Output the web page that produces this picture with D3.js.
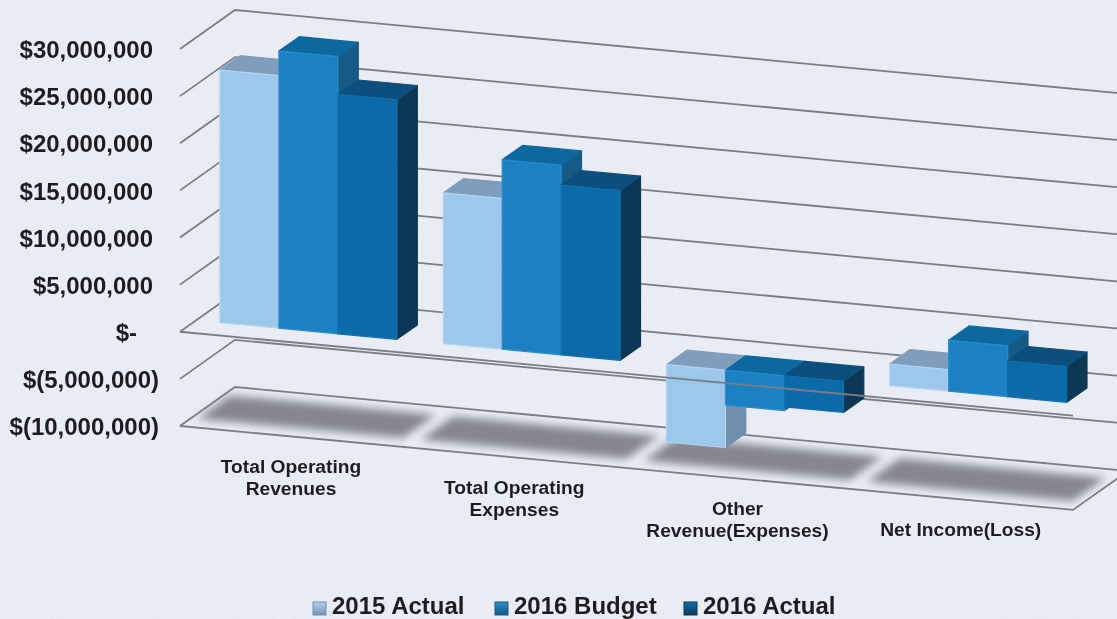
<!DOCTYPE html>
<html>
<head>
<meta charset="utf-8">
<script src="https://cdn.jsdelivr.net/npm/d3@7"></script>
<style>
  html, body { margin: 0; padding: 0; background: #eceef6; }
  svg { display: block; }
  text { font-family: "Liberation Sans", Arial, sans-serif; font-weight: bold; fill: #1e1e24; }
</style>
</head>
<body>
<div id="chart"></div>
<script>
const categories = ["Total Operating Revenues", "Total Operating Expenses", "Other Revenue(Expenses)", "Net Income(Loss)"];
const categoryLines = [["Total Operating", "Revenues"], ["Total Operating", "Expenses"], ["Other", "Revenue(Expenses)"], ["Net Income(Loss)"]];
const seriesNames = ["2015 Actual", "2016 Budget", "2016 Actual"];
const actual2015 = [26800000, 16000000, -8200000, 2300000];
const budget2016 = [29400000, 20100000, -3700000, 5400000];
const actual2016 = [25400000, 18000000, -3300000, 3800000];
const tickValues = [30000000, 25000000, 20000000, 15000000, 10000000, 5000000, 0, -5000000, -10000000];
const tickLabels = ["$30,000,000", "$25,000,000", "$20,000,000", "$15,000,000", "$10,000,000", "$5,000,000", "$-", "$(5,000,000)", "$(10,000,000)"];

const seriesValues = [actual2015, budget2016, actual2016];
const faces = [
  { front: "#9dc8ec", top: "#7f9dbc", side: "#6f8fae", edge: "#b4d6f2" },
  { front: "#1b80c5", top: "#10689f", side: "#155a86", edge: "#2b8ccc" },
  { front: "#0c6aa8", top: "#0e4f7b", side: "#0c3955", edge: "#0d70b0" }
];

const width = 1117, height = 619;
const slope = 0.094, depthX = 55, depthY = -39;

const svg = d3.select("#chart").append("svg").attr("width", width).attr("height", height);
const defs = svg.append("defs");
defs.append("filter").attr("id", "shadowBlur")
  .attr("x", "-10%").attr("y", "-30%").attr("width", "120%").attr("height", "160%")
  .append("feGaussianBlur").attr("stdDeviation", 4);
defs.append("filter").attr("id", "soft").append("feGaussianBlur").attr("stdDeviation", 0.45);
defs.append("filter").attr("id", "softText").append("feGaussianBlur").attr("stdDeviation", 0.3);

const paper = defs.append("filter").attr("id", "paper")
  .attr("x", 0).attr("y", 0).attr("width", "100%").attr("height", "100%");
paper.append("feTurbulence").attr("type", "fractalNoise").attr("baseFrequency", 0.7).attr("numOctaves", 2).attr("seed", 4);
paper.append("feColorMatrix").attr("type", "matrix")
  .attr("values", "0 0 0 0 0.6  0 0 0 0 0.62  0 0 0 0 0.72  0.35 0 0 0 -0.12");

const swatch = defs.selectAll("linearGradient").data(faces).join("linearGradient")
  .attr("id", (d, i) => "swatch" + i).attr("x1", 0).attr("y1", 0).attr("x2", 0).attr("y2", 1);
swatch.append("stop").attr("offset", "0%").attr("stop-color", d => d.edge);
swatch.append("stop").attr("offset", "100%").attr("stop-color", d => d.side);

svg.append("rect").attr("width", width).attr("height", height).attr("fill", "#eceef6");
svg.append("rect").attr("width", width).attr("height", height).attr("filter", "url(#paper)");

const y = d3.scaleLinear().domain([-10000000, 30000000]).range([426, 49]);
const x = d3.scaleBand().domain(categories).range([180, 1073]);
const inner = d3.scaleBand().domain(seriesNames).range([24, 201]);
const xEnd = x.range()[1];

// front-plane x, value and depth (0 front .. 1 back) to screen
function project(px, value, depth) {
  return [px + depth * depthX, y(value) + (px - 180) * slope + depth * depthY];
}
const path = pts => "M" + pts.map(p => p.map(n => n.toFixed(1)).join(",")).join("L") + "Z";
const line = d3.line();

const g = svg.append("g").attr("filter", "url(#soft)");
const lineColor = "#7c7c86";

// walls
const walls = g.append("g").attr("fill", "none").attr("stroke", lineColor).attr("stroke-width", 1.8);
walls.selectAll("path").data(tickValues).join("path")
  .attr("d", v => line([project(180, v, 0), project(180, v, 1), project(xEnd, v, 1)]));
walls.append("path").attr("d", line([project(180, -10000000, 0), project(xEnd, -10000000, 0), project(xEnd, -10000000, 1)]));

// floor shadows
g.append("g").selectAll("path").data(categories).join("path")
  .attr("d", c => {
    const a = x(c) + 6, b = x(c) + 212;
    return path([project(a, -10000000, 0.2), project(a, -10000000, 0.8), project(b, -10000000, 0.8), project(b, -10000000, 0.2)]);
  })
  .attr("fill", "#85868f")
  .attr("filter", "url(#shadowBlur)");

// bars
const bars = [];
categories.forEach((c, ci) => {
  seriesNames.forEach((s, si) => {
    bars.push({ c, s, si, value: seriesValues[si][ci] });
  });
});
const d0 = 0.29, d1 = 0.66;
const bar = g.append("g").selectAll("g").data(bars).join("g")
  .attr("stroke-linejoin", "round").attr("stroke-width", 1.2);
bar.each(function(d) {
  const sel = d3.select(this);
  const f = faces[d.si];
  const l = x(d.c) + inner(d.s), r = l + inner.bandwidth();
  const hi = Math.max(d.value, 0), lo = Math.min(d.value, 0);
  sel.append("path").attr("fill", f.side).attr("stroke", f.side)
    .attr("d", path([project(r, hi, d0), project(r, hi, d1), project(r, lo, d1), project(r, lo, d0)]));
  sel.append("path").attr("fill", f.top).attr("stroke", f.top)
    .attr("d", path([project(l, hi, d0), project(l, hi, d1), project(r, hi, d1), project(r, hi, d0)]));
  sel.append("path").attr("fill", f.front).attr("stroke", f.edge)
    .attr("d", path([project(l, hi, d0), project(r, hi, d0), project(r, lo, d0), project(l, lo, d0)]));
});

// zero plane front edge runs over the bars
g.append("path").attr("fill", "none").attr("stroke", lineColor).attr("stroke-width", 1.8)
  .attr("d", line([project(180, 0, 0), project(xEnd, 0, 0)]));

const labels = svg.append("g").attr("filter", "url(#softText)");

// value axis
const axis = d3.axisLeft(y).tickValues(tickValues).tickSize(0).tickPadding(0)
  .tickFormat((d, i) => tickLabels[i]);
const axisG = labels.append("g").attr("transform", "translate(180,1)").call(axis);
axisG.select(".domain").remove();
axisG.selectAll("text")
  .attr("font-size", 24)
  .attr("x", (d) => d === 0 ? -43 : d < 0 ? -21 : -27);
axisG.attr("font-family", null).attr("font-size", null);

// category labels
const catLabel = labels.append("g").selectAll("text").data(categories).join("text")
  .attr("text-anchor", "middle").attr("font-size", 19.2)
  .attr("transform", (c) => `translate(${x(c) + 111},${473 + categories.indexOf(c) * 21})`);
catLabel.selectAll("tspan").data((c, i) => categoryLines[i]).join("tspan")
  .attr("x", 0).attr("dy", (d, i) => i ? 22 : 0).text(d => d);

// legend
const legendX = [313, 495, 684];
const legend = labels.append("g").selectAll("g").data(seriesNames).join("g")
  .attr("transform", (d, i) => `translate(${legendX[i]},602)`);
legend.append("rect").attr("width", 13).attr("height", 13)
  .attr("fill", (d, i) => `url(#swatch${i})`).attr("stroke", (d, i) => faces[i].side).attr("stroke-width", 1);
legend.append("text").attr("x", 19).attr("y", 11.8).attr("font-size", 24).text(d => d);
</script>
</body>
</html>
